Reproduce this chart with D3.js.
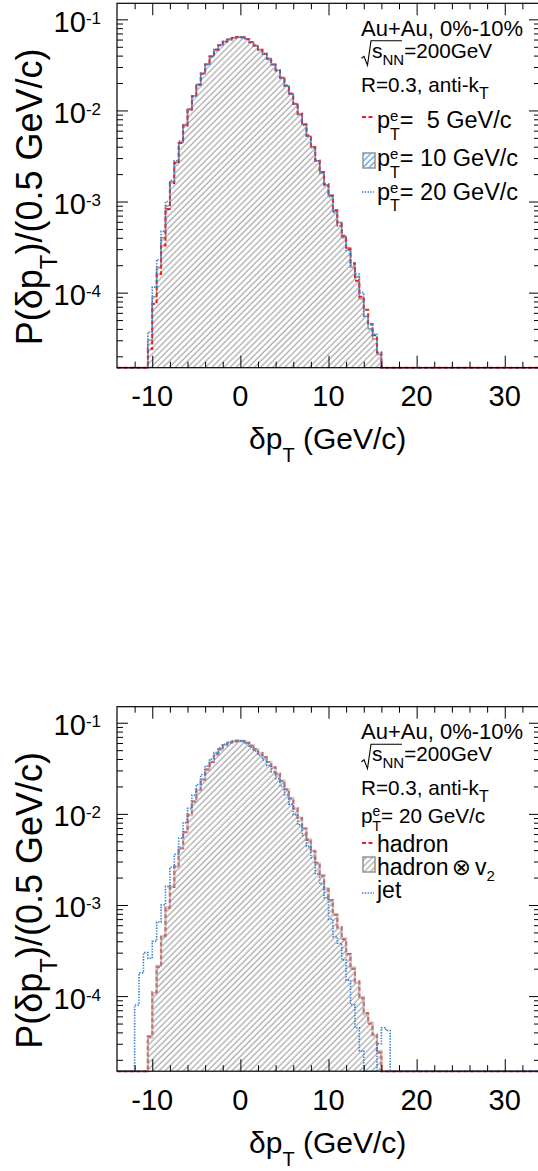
<!DOCTYPE html>
<html><head><meta charset="utf-8">
<script src="https://cdn.jsdelivr.net/npm/d3@7"></script>
<style>
html,body{margin:0;padding:0;background:#fff;}
svg{display:block;font-family:"Liberation Sans",Arial,Helvetica,sans-serif;}
svg text{white-space:pre;}
</style></head><body>
<svg id="chart" width="538" height="1171" xml:space="preserve"></svg>
<script>
// Lower edges of the 0.5 GeV/c delta-pT bins
const binLow = [-12,-11.5,-11,-10.5,-10,-9.5,-9,-8.5,-8,-7.5,-7,-6.5,-6,-5.5,-5,-4.5,-4,-3.5,-3,-2.5,-2,-1.5,-1,-0.5,
  0,0.5,1,1.5,2,2.5,3,3.5,4,4.5,5,5.5,6,6.5,7,7.5,8,8.5,9,9.5,10,10.5,11,11.5,12,12.5,13,13.5,14,14.5,15,15.5,16,16.5];
const binWidth = 0.5;

// Upper panel: electron-tagged jets, three electron pT values
const pt5 = [0,0,0,2.4e-5,7.5e-5,1.6e-4,3.3e-4,8.3e-4,1.6e-3,2.65e-3,4.4e-3,6.8e-3,1.02e-2,1.43e-2,1.91e-2,2.53e-2,3.2e-2,3.9e-2,4.64e-2,5.2e-2,5.69e-2,6.0e-2,6.25e-2,6.4e-2,
  6.35e-2,6.1e-2,5.6e-2,5.15e-2,4.65e-2,4.2e-2,3.7e-2,3.2e-2,2.75e-2,2.29e-2,1.88e-2,1.53e-2,1.18e-2,9.2e-3,7.0e-3,5.3e-3,
  3.95e-3,2.83e-3,2.1e-3,1.56e-3,1.16e-3,8.0e-4,5.7e-4,4.2e-4,3.0e-4,2.1e-4,1.35e-4,9.0e-5,6.5e-5,4.5e-5,3.4e-5,2.2e-5,0,0];
const pt10 = [0,0,0,3.0e-5,9.0e-5,1.9e-4,4.0e-4,9.0e-4,1.65e-3,2.7e-3,4.45e-3,6.9e-3,1.03e-2,1.44e-2,1.92e-2,2.54e-2,3.21e-2,3.92e-2,4.65e-2,5.22e-2,5.7e-2,6.02e-2,6.26e-2,6.4e-2,
  6.34e-2,6.08e-2,5.62e-2,5.14e-2,4.66e-2,4.18e-2,3.71e-2,3.19e-2,2.76e-2,2.3e-2,1.87e-2,1.52e-2,1.19e-2,9.1e-3,7.1e-3,5.2e-3,
  4.0e-3,2.8e-3,2.12e-3,1.52e-3,1.18e-3,7.8e-4,5.9e-4,4.0e-4,3.1e-4,1.9e-4,1.5e-4,8.5e-5,5.5e-5,4.0e-5,3.1e-5,2.1e-5,0,0];
const pt20 = [0,0,0,3.7e-5,1.15e-4,2.3e-4,4.7e-4,1.0e-3,1.7e-3,2.8e-3,4.6e-3,7.0e-3,1.04e-2,1.45e-2,1.94e-2,2.55e-2,3.22e-2,3.93e-2,4.66e-2,5.23e-2,5.71e-2,6.03e-2,6.27e-2,6.41e-2,
  6.33e-2,6.07e-2,5.61e-2,5.13e-2,4.64e-2,4.17e-2,3.69e-2,3.18e-2,2.74e-2,2.28e-2,1.86e-2,1.51e-2,1.17e-2,9.0e-3,6.9e-3,5.2e-3,
  3.9e-3,2.8e-3,2.05e-3,1.5e-3,1.12e-3,7.6e-4,5.4e-4,4.1e-4,2.9e-4,2.0e-4,1.6e-4,1.0e-4,5.5e-5,4.5e-5,3.5e-5,2.2e-5,0,0];

// Lower panel: background model comparison at pT(e) = 20 GeV/c
const hadron = [0,0,0,3.6e-5,1.1e-4,2.1e-4,4.6e-4,9.3e-4,1.58e-3,2.65e-3,4.2e-3,6.3e-3,9.8e-3,1.37e-2,1.84e-2,2.38e-2,3.07e-2,3.72e-2,4.5e-2,5.1e-2,5.7e-2,6.0e-2,6.2e-2,6.35e-2,
  6.3e-2,6.05e-2,5.6e-2,5.15e-2,4.65e-2,4.2e-2,3.7e-2,3.25e-2,2.75e-2,2.3e-2,1.86e-2,1.48e-2,1.15e-2,9.0e-3,6.9e-3,5.2e-3,
  3.9e-3,2.9e-3,2.1e-3,1.5e-3,1.13e-3,7.8e-4,5.7e-4,4.2e-4,2.9e-4,2.0e-4,1.45e-4,9.5e-5,6.5e-5,5.0e-5,3.8e-5,2.4e-5,0,0];
const hadronV2 = [0,0,0,3.5e-5,1.08e-4,2.15e-4,4.5e-4,9.4e-4,1.6e-3,2.62e-3,4.25e-3,6.35e-3,9.7e-3,1.38e-2,1.83e-2,2.4e-2,3.06e-2,3.74e-2,4.48e-2,5.12e-2,5.68e-2,6.02e-2,6.21e-2,6.34e-2,
  6.31e-2,6.04e-2,5.62e-2,5.13e-2,4.67e-2,4.19e-2,3.72e-2,3.24e-2,2.76e-2,2.31e-2,1.85e-2,1.49e-2,1.14e-2,9.1e-3,6.8e-3,5.25e-3,
  3.95e-3,2.85e-3,2.12e-3,1.52e-3,1.1e-3,7.9e-4,5.6e-4,4.3e-4,2.85e-4,2.05e-4,1.4e-4,9.8e-5,6.3e-5,5.1e-5,3.7e-5,2.5e-5,0,0];
const jet = [8.0e-5,1.8e-4,3.0e-4,2.6e-4,4.0e-4,6.5e-4,1.0e-3,1.6e-3,2.6e-3,3.6e-3,5.4e-3,8.0e-3,1.15e-2,1.6e-2,2.1e-2,2.7e-2,3.35e-2,4.0e-2,4.7e-2,5.3e-2,5.8e-2,6.1e-2,6.3e-2,6.35e-2,
  6.25e-2,5.9e-2,5.4e-2,4.9e-2,4.4e-2,3.9e-2,3.4e-2,2.9e-2,2.45e-2,2.0e-2,1.62e-2,1.28e-2,9.8e-3,7.6e-3,5.8e-3,4.4e-3,
  3.3e-3,2.2e-3,1.7e-3,1.2e-3,7.0e-4,4.5e-4,3.8e-4,2.5e-4,1.5e-4,8.0e-5,4.5e-5,2.5e-5,0,0,0,3.0e-5,4.5e-5,4.2e-5];

// Axis settings
const xDomain = [-14, 34];
const yDomain = [1.5e-5, 0.15];
const xMajorTicks = [-10, 0, 10, 20, 30];
const xTickLabels = ["-10", "0", "10", "20", "30"];
const yMajorTicks = [1e-4, 1e-3, 1e-2, 1e-1];
const yTickExponents = ["-4", "-3", "-2", "-1"];

const RED = "#ee2020", BLUE = "#2f7fd8", GRAY = "#9a9a9a";
const svg = d3.select("#chart");
const x = d3.scaleLinear().domain(xDomain).range([117, 540]);

// hatch patterns
const defs = svg.append("defs");
function hatch(id, color, w) {
  const p = defs.append("pattern").attr("id", id).attr("patternUnits", "userSpaceOnUse")
    .attr("width", 4.3).attr("height", 10).attr("patternTransform", "rotate(45)");
  p.append("line").attr("x1", 1).attr("x2", 1).attr("y1", 0).attr("y2", 10)
    .attr("stroke", color).attr("stroke-width", w);
}
hatch("hatchGray", "#777", 0.85);
hatch("hatchBlue", BLUE, 1.0);

// text made of runs: main text, raised/lowered pieces, and pieces that do not advance
function rich(g, x0, y0, parts) {
  let cx = x0;
  parts.forEach(p => {
    const t = g.append("text").attr("x", cx + (p.dx || 0)).attr("y", y0 + (p.dy || 0))
      .attr("font-size", p.size).attr("fill", "#000").text(p.t);
    if (p.family) t.attr("font-family", p.family);
    const w = t.node().getComputedTextLength();
    if (p.adv !== false) cx += w + (p.dx || 0);
  });
  return cx;
}

function ptE(value, size) {
  return [
    {t: "p", size: size},
    {t: "e", size: 15, dy: -7, adv: false},
    {t: "T", size: 16, dy: 11.5},
    {t: value, size: size}
  ];
}

function drawPanel(top, bottom, layers, legend) {
  const y = d3.scaleLog().domain(yDomain).range([bottom, top]);
  const g = svg.append("g");
  const yb = bottom;
  const yv = v => v > yDomain[0] ? Math.max(y(v), top) : yb;

  function stepPts(vals) {
    const pts = [[x(xDomain[0]), yb]];
    let prev = yb;
    binLow.forEach((lo, i) => {
      const yy = yv(vals[i]);
      pts.push([x(lo), prev], [x(lo), yy], [x(lo + binWidth), yy]);
      prev = yy;
    });
    const last = binLow[binLow.length - 1] + binWidth;
    pts.push([x(last), yb], [x(xDomain[1]), yb]);
    return pts;
  }
  const line = d3.line();

  layers.forEach(L => {
    const d = line(stepPts(L.values));
    if (L.fill) {
      g.append("path").attr("d", d + "Z").attr("fill", L.fill).attr("stroke", "none");
    }
    if (L.width > 0) {
      g.append("path").attr("d", d).attr("fill", "none")
        .attr("stroke", L.stroke).attr("stroke-width", L.width)
        .attr("stroke-dasharray", L.dash || null)
        .attr("stroke-opacity", L.opacity || 1);
    }
  });

  // frame
  g.append("rect").attr("x", x.range()[0]).attr("y", top)
    .attr("width", x.range()[1] - x.range()[0]).attr("height", bottom - top)
    .attr("fill", "none").attr("stroke", "#000").attr("stroke-width", 1.2);

  // ticks on all four sides, pointing inward
  const xMinor = x.ticks(24).filter(v => !xMajorTicks.includes(v) && v > xDomain[0] && v < xDomain[1]);
  const yAll = y.ticks();
  const yMinor = yAll.filter(v => Math.abs(Math.log10(v) - Math.round(Math.log10(v))) > 1e-6);
  const axes = [
    [d3.axisBottom(x).tickValues(xMinor).tickSize(-6), `translate(0,${bottom})`],
    [d3.axisBottom(x).tickValues(xMajorTicks).tickSize(-12), `translate(0,${bottom})`],
    [d3.axisTop(x).tickValues(xMinor).tickSize(-6), `translate(0,${top})`],
    [d3.axisTop(x).tickValues(xMajorTicks).tickSize(-12), `translate(0,${top})`],
    [d3.axisLeft(y).tickValues(yMinor).tickSize(-6), `translate(${x.range()[0]},0)`],
    [d3.axisLeft(y).tickValues(yMajorTicks).tickSize(-11), `translate(${x.range()[0]},0)`],
    [d3.axisRight(y).tickValues(yMinor).tickSize(-6), `translate(${x.range()[1]},0)`],
    [d3.axisRight(y).tickValues(yMajorTicks).tickSize(-11), `translate(${x.range()[1]},0)`]
  ];
  axes.forEach(([ax, tr]) => {
    const a = g.append("g").attr("transform", tr).call(ax.tickFormat(""));
    a.select(".domain").remove();
    a.selectAll("line").attr("stroke", "#000").attr("stroke-width", 1);
  });

  // x tick labels
  xMajorTicks.forEach((v, i) => {
    g.append("text").attr("x", x(v)).attr("y", bottom + 38.5)
      .attr("text-anchor", "middle").attr("font-size", 29).text(xTickLabels[i]);
  });
  // y tick labels: 10 with exponent
  yMajorTicks.forEach((v, i) => {
    const t = g.append("text").attr("x", 101).attr("y", y(v) + 12.5).attr("text-anchor", "end");
    t.append("tspan").attr("font-size", 29).text("10");
    t.append("tspan").attr("font-size", 17).attr("dy", -8).text(yTickExponents[i]);
  });

  // x title
  rich(g, 249, bottom + 81.5, [
    {t: "\u03b4p", size: 30},
    {t: "T", size: 20, dy: 13},
    {t: "\u00a0(GeV/c)", size: 30}
  ]);
  // y title
  const yt = g.append("g").attr("transform", `translate(42,${top + 342}) rotate(-90)`);
  rich(yt, 0, 0, [
    {t: "P(\u03b4p", size: 36},
    {t: "T", size: 24, dy: 15},
    {t: ")/(0.5 GeV/c)", size: 36}
  ]);

  legend(g, top);
}

function header(g, top) {
  rich(g, 361, top + 32.7, [{t: "Au+Au, 0%-10%", size: 22}]);
  // square-root sign with bar over s_NN
  const bY = top + 51;
  rich(g, 372, top + 54.5, [
    {t: "s", size: 21},
    {t: "NN", size: 15, dy: 7},
    {t: "=200GeV", size: 20.7}
  ]);
  g.append("path").attr("d", `M361.5,${bY + 4} L364,${bY + 2} L367.5,${bY + 11} L371,${top + 37.5} L402,${top + 37.5}`)
    .attr("fill", "none").attr("stroke", "#000").attr("stroke-width", 1.1);
  rich(g, 361, top + 88.5, [
    {t: "R=0.3, anti-k", size: 20.7},
    {t: "T", size: 16, dy: 7}
  ]);
}

// upper panel
drawPanel(3.3, 367.7, [
  {values: pt10, fill: "url(#hatchGray)", stroke: GRAY, width: 1.6},
  {values: pt5, stroke: RED, width: 2, dash: "4,2.5"},
  {values: pt20, stroke: BLUE, width: 1.6, dash: "1.4,1.4"}
], (g, top) => {
  header(g, top);
  g.append("line").attr("x1", 362).attr("x2", 374).attr("y1", top + 113.7).attr("y2", top + 113.7)
    .attr("stroke", RED).attr("stroke-width", 2).attr("stroke-dasharray", "4,2.5");
  rich(g, 377, top + 124.7, ptE("=  5 GeV/c", 23.5));
  g.append("rect").attr("x", 363).attr("y", top + 149.7).attr("width", 12).attr("height", 15)
    .attr("fill", "url(#hatchBlue)").attr("stroke", GRAY).attr("stroke-width", 1.6);
  rich(g, 377, top + 162.7, ptE("= 10 GeV/c", 23.5));
  g.append("line").attr("x1", 362).attr("x2", 374).attr("y1", top + 188.7).attr("y2", top + 188.7)
    .attr("stroke", BLUE).attr("stroke-width", 1.6).attr("stroke-dasharray", "1.4,1.4");
  rich(g, 377, top + 196.5, ptE("= 20 GeV/c", 23.5));
});

// lower panel
drawPanel(706.7, 1071.2, [
  {values: hadronV2, fill: "url(#hatchGray)", stroke: "none", width: 0},
  {values: hadron, stroke: RED, width: 2, dash: "4,2.5"},
  {values: hadronV2, stroke: "#a8a8a8", width: 2.4, opacity: 0.6},
  {values: jet, stroke: BLUE, width: 1.6, dash: "1.4,1.4"}
], (g, top) => {
  header(g, top);
  rich(g, 361, top + 115.8, [
    {t: "p", size: 20.7},
    {t: "e", size: 14, dy: -7, adv: false},
    {t: "T", size: 14, dy: 8.5},
    {t: "= 20 GeV/c", size: 20.7}
  ]);
  g.append("line").attr("x1", 362).attr("x2", 374).attr("y1", top + 136.3).attr("y2", top + 136.3)
    .attr("stroke", RED).attr("stroke-width", 2).attr("stroke-dasharray", "4,2.5");
  rich(g, 377, top + 145.3, [{t: "hadron", size: 23}]);
  g.append("rect").attr("x", 363).attr("y", top + 150.3).attr("width", 12).attr("height", 15)
    .attr("fill", "url(#hatchGray)").attr("stroke", GRAY).attr("stroke-width", 1.6);
  rich(g, 377, top + 167.8, [
    {t: "hadron", size: 23},
    {t: "\u2297", size: 23, dx: 3, family: "DejaVu Sans"},
    {t: "v", size: 23, dx: 4},
    {t: "2", size: 15, dy: 6}
  ]);
  g.append("line").attr("x1", 362).attr("x2", 374).attr("y1", top + 186.3).attr("y2", top + 186.3)
    .attr("stroke", BLUE).attr("stroke-width", 1.6).attr("stroke-dasharray", "1.4,1.4");
  rich(g, 377, top + 191.3, [{t: "jet", size: 23}]);
});
</script></body></html>
